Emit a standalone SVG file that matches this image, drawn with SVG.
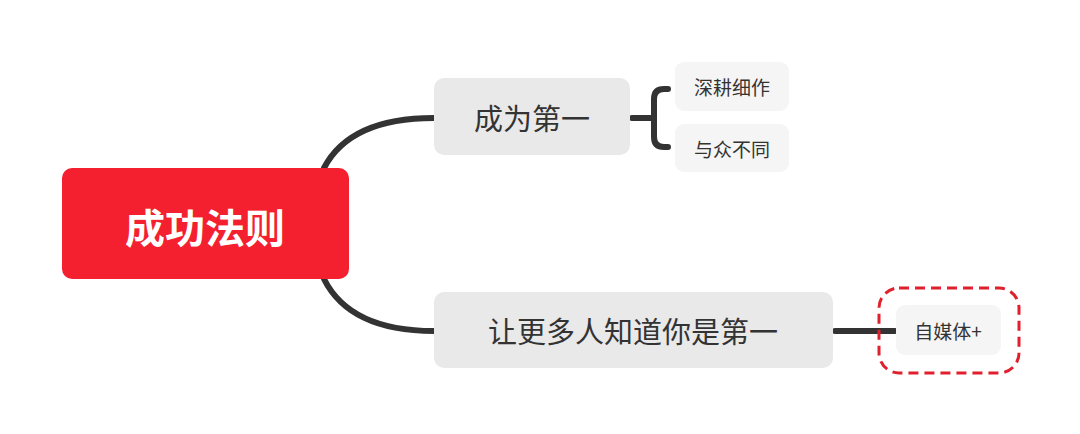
<svg xmlns="http://www.w3.org/2000/svg" width="1080" height="434" viewBox="0 0 1080 434">
<style>
.c{fill:none;stroke:#333;stroke-width:6;stroke-linecap:round}
.t{font-family:"Noto Sans CJK SC",sans-serif;fill:#333;text-anchor:middle;dominant-baseline:central}
.b{fill:#e9e9e9}
.l{fill:#f5f5f5}
</style>
<rect width="1080" height="434" fill="#fff"/>
<g id="connectors">
<path class="c" d="M324,168 Q350,118 434,118"/>
<path class="c" d="M324,279 Q350,331 434,331"/>
<path class="c" d="M632,118 H654"/>
<path class="c" d="M668,89 H664 Q654,89 654,99 V137 Q654,147 664,147 H668"/>
<path class="c" d="M835,331 H895"/>
</g>
<g id="root"><rect x="62" y="168" width="287" height="111" rx="10" fill="#f5202f"/><text class="t" x="205" y="226" font-size="40" font-weight="bold" fill="#fff" style="fill:#fff">成功法则</text></g>
<g id="n1"><rect class="b" x="434" y="78" width="196" height="77" rx="10"/><text class="t" x="532" y="117" font-size="29">成为第一</text></g>
<g id="n2"><rect class="b" x="434" y="292" width="399" height="76" rx="10"/><text class="t" x="633" y="330" font-size="29">让更多人知道你是第一</text></g>
<g id="l1"><rect class="l" x="675" y="62" width="114" height="49" rx="9"/><text class="t" x="732" y="86" font-size="19">深耕细作</text></g>
<g id="l2"><rect class="l" x="675" y="124" width="114" height="48" rx="9"/><text class="t" x="732" y="148" font-size="19">与众不同</text></g>
<g id="l3"><rect x="879" y="288" width="140" height="85" rx="20" fill="none" stroke="#e0202c" stroke-width="3" stroke-dasharray="10,6"/><rect class="l" x="896" y="305" width="105" height="50" rx="9"/><text class="t" x="948" y="330" font-size="19">自媒体+</text></g>
</svg>
